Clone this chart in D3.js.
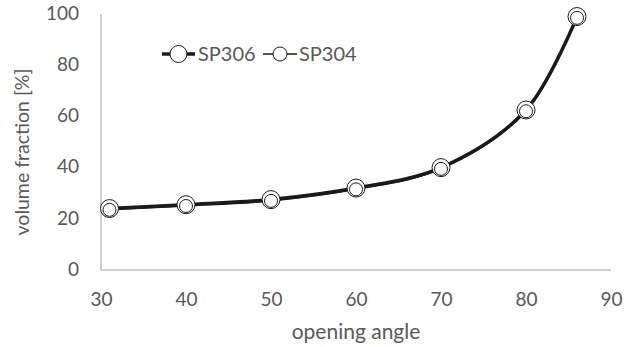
<!DOCTYPE html>
<html><head><meta charset="utf-8">
<script src="https://cdn.jsdelivr.net/npm/d3@7"></script>
<style>body{margin:0;background:#fff}svg{display:block}</style>
</head><body>
<script>
const angles = [31, 40, 50, 60, 70, 80, 86];
const sp306 = [24, 25.5, 27.5, 32, 40, 62.5, 99];
const sp304 = [23.5, 25, 27, 31.5, 39.5, 62, 98.5];
const xTicks = [30, 40, 50, 60, 70, 80, 90];
const yTicks = [0, 20, 40, 60, 80, 100];
const seriesNames = ["SP306", "SP304"];

const W = 638, H = 347;
const svg = d3.select("body").append("svg").attr("width", W).attr("height", H);
const font = "Lato, 'Open Sans', sans-serif";
const fs = "19px";
const txt = "#595959", axc = "#bfbfbf";

const x = d3.scaleLinear().domain([30, 90]).range([101, 611]);
const y = d3.scaleLinear().domain([0, 100]).range([270, 14]);

svg.append("line").attr("x1", x(30)).attr("x2", x(30)).attr("y1", y(0)).attr("y2", y(100))
  .attr("stroke", axc).attr("stroke-width", 1.5);
svg.append("line").attr("x1", x(30)).attr("x2", x(90)).attr("y1", y(0)).attr("y2", y(0))
  .attr("stroke", axc).attr("stroke-width", 1.5);

const xAxis = svg.append("g").attr("transform", `translate(0,${y(0)})`)
  .call(d3.axisBottom(x).tickValues(xTicks).tickSize(0).tickPadding(23));
const yAxis = svg.append("g").attr("transform", `translate(${x(30)},0)`)
  .call(d3.axisLeft(y).tickValues(yTicks).tickSize(0).tickPadding(22));
[xAxis, yAxis].forEach(g => {
  g.select(".domain").remove();
  g.selectAll("text").attr("fill", txt).style("font-family", font).style("font-size", fs);
});
yAxis.selectAll("text").attr("dy", "0.28em");

svg.append("text").attr("x", 356).attr("y", 332).attr("dy", "0.35em").attr("text-anchor", "middle")
  .attr("fill", txt).style("font-family", font).style("font-size", "21px").text("opening angle");
svg.append("text").attr("transform", "translate(22,152) rotate(-90)").attr("dy", "0.35em").attr("text-anchor", "middle")
  .attr("fill", txt).style("font-family", font).style("font-size", "19.5px").text("volume fraction [%]");

const line = d3.line().x(d => x(d[0])).y(d => y(d[1])).curve(d3.curveCatmullRom.alpha(0.5));
const d306 = angles.map((a, i) => [a, sp306[i]]);
const d304 = angles.map((a, i) => [a, sp304[i]]);

svg.append("path").datum(d304).attr("d", line).attr("fill", "none").attr("stroke", "#1a1a1a").attr("stroke-width", 1.5);
svg.append("path").datum(d306).attr("d", line).attr("fill", "none").attr("stroke", "#1a1a1a").attr("stroke-width", 3.5);

svg.append("g").selectAll("circle").data(d306).join("circle")
  .attr("cx", d => x(d[0])).attr("cy", d => y(d[1])).attr("r", 9)
  .attr("fill", "#fff").attr("stroke", "#1a1a1a").attr("stroke-width", 1);
svg.append("g").selectAll("circle").data(d304).join("circle")
  .attr("cx", d => x(d[0])).attr("cy", d => y(d[1])).attr("r", 6.5)
  .attr("fill", "#fff").attr("stroke", "#1a1a1a").attr("stroke-width", 1);

const lg = svg.append("g");
const items = [
  {name: seriesNames[0], x0: 162, x1: 195, sw: 3.5, r: 8.5, tx: 198},
  {name: seriesNames[1], x0: 263, x1: 297, sw: 1.5, r: 7, tx: 299}
];
items.forEach(it => {
  const cy = 54;
  lg.append("line").attr("x1", it.x0).attr("x2", it.x1).attr("y1", cy).attr("y2", cy)
    .attr("stroke", "#1a1a1a").attr("stroke-width", it.sw);
  lg.append("circle").attr("cx", (it.x0 + it.x1) / 2).attr("cy", cy).attr("r", it.r)
    .attr("fill", "#fff").attr("stroke", "#1a1a1a").attr("stroke-width", 1);
  lg.append("text").attr("x", it.tx).attr("y", cy).attr("dy", "0.35em").attr("fill", txt)
    .style("font-family", font).style("font-size", "20px").text(it.name);
});
</script>
</body></html>
